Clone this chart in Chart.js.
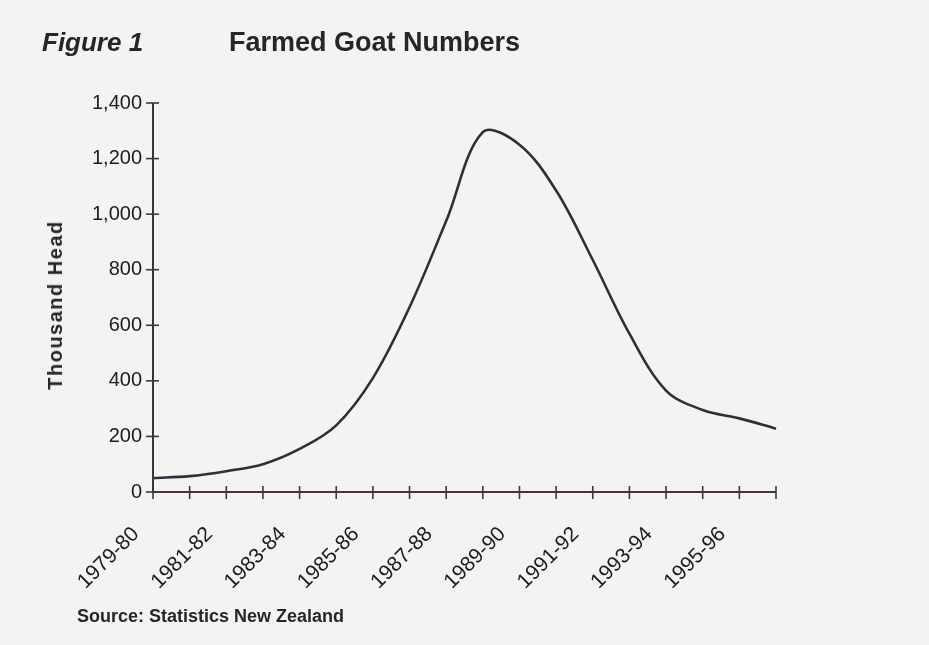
<!DOCTYPE html>
<html>
<head>
<meta charset="utf-8">
<script src="https://cdn.jsdelivr.net/npm/chart.js@4.4.1/dist/chart.umd.min.js"></script>
<style>
    html, body { margin: 0; padding: 0; background: #f3f3f2; }
    #wrap { position: relative; width: 929px; height: 645px; overflow: hidden; background: #f3f3f2; }
    #chart { position: absolute; left: 0; top: 0; }
    .txt { position: absolute; font-family: "Liberation Sans", Arial, sans-serif; font-weight: bold; color: #262626; white-space: nowrap; line-height: 1; }
    #fig { left: 42px; top: 29px; font-size: 26px; font-style: italic; }
    #title { left: 229px; top: 29px; font-size: 27px; }
    #ytitle { left: 55px; top: 305px; font-size: 20px; letter-spacing: 1.5px; transform: translate(-50%, -50%) rotate(-90deg); }
    #source { left: 77px; top: 607px; font-size: 18px; }
</style>
</head>
<body>
<div id="wrap">
    <canvas id="chart" width="929" height="645"></canvas>
    <div class="txt" id="fig">Figure 1</div>
    <div class="txt" id="title">Farmed Goat Numbers</div>
    <div class="txt" id="ytitle">Thousand Head</div>
    <div class="txt" id="source">Source: Statistics New Zealand</div>
</div>
<script>
// season labels (one per tick on the x axis)
const seasons = ['1979-80', '1980-81', '1981-82', '1982-83', '1983-84', '1984-85',
    '1985-86', '1986-87', '1987-88', '1988-89', '1989-90', '1990-91',
    '1991-92', '1992-93', '1993-94', '1994-95', '1995-96', '1996-97'];

// farmed goats, thousand head
const goats = [50, 57, 75, 100, 155, 240, 410, 665, 975, 1295, 1250, 1085,
    835, 570, 365, 295, 265, 228];

const yTicks = [0, 200, 400, 600, 800, 1000, 1200, 1400];

// short tick marks that cross the axes, like the printed figure
const crossTicks = {
    id: 'crossTicks',
    afterDraw(chart) {
        const ctx = chart.ctx;
        const x = chart.scales.x, y = chart.scales.y;
        ctx.save();
        ctx.lineWidth = 1.6;
        ctx.strokeStyle = '#3a3a3a';
        seasons.forEach((s, i) => {
            const px = x.getPixelForValue(i);
            ctx.beginPath();
            ctx.moveTo(px, y.bottom - 6);
            ctx.lineTo(px, y.bottom + 7);
            ctx.stroke();
        });
        yTicks.forEach(v => {
            const py = y.getPixelForValue(v);
            ctx.beginPath();
            ctx.moveTo(x.left - 7, py);
            ctx.lineTo(x.left + 6, py);
            ctx.stroke();
        });
        // axis lines
        ctx.lineWidth = 2;
        ctx.strokeStyle = '#363636';
        ctx.beginPath();
        ctx.moveTo(x.left, y.top);
        ctx.lineTo(x.left, y.bottom);
        ctx.stroke();
        ctx.strokeStyle = '#4a2f3c';
        ctx.beginPath();
        ctx.moveTo(x.left, y.bottom);
        ctx.lineTo(x.right, y.bottom);
        ctx.stroke();
        ctx.restore();
    }
};

const ctx = document.getElementById('chart').getContext('2d');

new Chart(ctx, {
    type: 'line',
    data: {
        labels: seasons,
        datasets: [{
            data: goats,
            borderColor: '#2f2f38',
            borderWidth: 2.6,
            pointRadius: 0,
            fill: false,
            tension: 0.35
        }]
    },
    options: {
        responsive: false,
        animation: false,
        devicePixelRatio: 1,
        layout: { padding: { top: 103, right: 153, left: 0, bottom: 0 } },
        plugins: { legend: { display: false }, tooltip: { enabled: false } },
        scales: {
            x: {
                offset: false,
                border: { display: false },
                grid: { display: false },
                afterFit(scale) { scale.height = 153; },
                ticks: {
                    autoSkip: false,
                    maxRotation: 45,
                    minRotation: 45,
                    labelOffset: -17,
                    padding: 22,
                    color: '#1c1c1c',
                    font: { family: '"Liberation Sans", Arial, sans-serif', size: 21 },
                    callback(value, index) {
                        return index % 2 === 0 ? seasons[index] : null;
                    }
                }
            },
            y: {
                min: 0,
                max: 1400,
                border: { display: false },
                grid: { display: false },
                afterFit(scale) { scale.width = 153; },
                afterBuildTicks(scale) {
                    scale.ticks = yTicks.map(v => ({ value: v }));
                },
                ticks: {
                    padding: 3,
                    color: '#1c1c1c',
                    font: { family: '"Liberation Sans", Arial, sans-serif', size: 20 },
                    callback(value) { return value.toLocaleString('en-US'); }
                }
            }
        }
    },
    plugins: [crossTicks]
});
</script>
</body>
</html>
